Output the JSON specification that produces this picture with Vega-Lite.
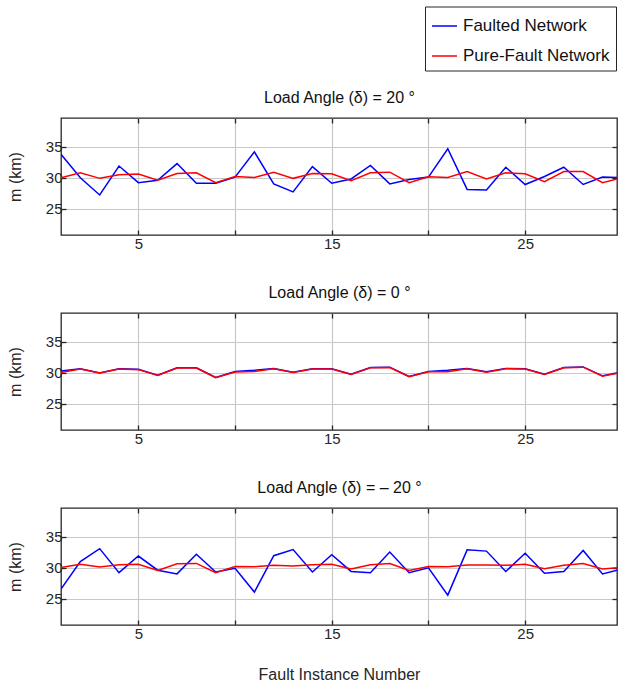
{
  "$schema": "https://vega.github.io/schema/vega-lite/v6.json",
  "padding": {"left": 6, "top": 5, "right": 0, "bottom": 2},
  "background": "white",
  "config": {
    "font": "Liberation Sans",
    "view": {"stroke": "#262626", "strokeWidth": 1.3},
    "axis": {"labelFont": "Liberation Sans", "titleFont": "Liberation Sans", "labelColor": "#262626", "titleColor": "#262626", "labelFontSize": 15, "titleFontSize": 16, "titleFontWeight": "normal", "gridColor": "#c8c8c8", "gridWidth": 1.2, "domain": false, "tickColor": "#262626", "tickWidth": 1.3},
    "axisTop": {"titleColor": "#111111", "titlePadding": 12},
    "legend": {"labelFont": "Liberation Sans"}
  },
  "datasets": {
    "p20": [
      {"n": 1, "faulted": 33.8, "pure": 30.0}, {"n": 2, "faulted": 30.0, "pure": 30.8}, {"n": 3, "faulted": 27.2, "pure": 29.9},
      {"n": 4, "faulted": 31.9, "pure": 30.5}, {"n": 5, "faulted": 29.2, "pure": 30.6}, {"n": 6, "faulted": 29.6, "pure": 29.6},
      {"n": 7, "faulted": 32.3, "pure": 30.7}, {"n": 8, "faulted": 29.1, "pure": 30.8}, {"n": 9, "faulted": 29.1, "pure": 29.2},
      {"n": 10, "faulted": 30.1, "pure": 30.2}, {"n": 11, "faulted": 34.2, "pure": 30.05}, {"n": 12, "faulted": 29.0, "pure": 30.9},
      {"n": 13, "faulted": 27.7, "pure": 29.9}, {"n": 14, "faulted": 31.8, "pure": 30.7}, {"n": 15, "faulted": 29.1, "pure": 30.65},
      {"n": 16, "faulted": 29.8, "pure": 29.5}, {"n": 17, "faulted": 32.0, "pure": 30.8}, {"n": 18, "faulted": 29.0, "pure": 30.9},
      {"n": 19, "faulted": 29.7, "pure": 29.2}, {"n": 20, "faulted": 30.1, "pure": 30.15}, {"n": 21, "faulted": 34.7, "pure": 30.05},
      {"n": 22, "faulted": 28.1, "pure": 31.0}, {"n": 23, "faulted": 28.0, "pure": 29.8}, {"n": 24, "faulted": 31.7, "pure": 30.8},
      {"n": 25, "faulted": 28.9, "pure": 30.65}, {"n": 26, "faulted": 30.2, "pure": 29.35}, {"n": 27, "faulted": 31.7, "pure": 31.0},
      {"n": 28, "faulted": 28.9, "pure": 31.0}, {"n": 29, "faulted": 30.1, "pure": 29.2}, {"n": 30, "faulted": 30.0, "pure": 30.0}
    ],
    "p0": [
      {"n": 1, "faulted": 30.3, "pure": 30.05}, {"n": 2, "faulted": 30.65, "pure": 30.6}, {"n": 3, "faulted": 29.95, "pure": 29.95},
      {"n": 4, "faulted": 30.65, "pure": 30.6}, {"n": 5, "faulted": 30.55, "pure": 30.5}, {"n": 6, "faulted": 29.6, "pure": 29.55},
      {"n": 7, "faulted": 30.8, "pure": 30.75}, {"n": 8, "faulted": 30.8, "pure": 30.75}, {"n": 9, "faulted": 29.25, "pure": 29.2},
      {"n": 10, "faulted": 30.2, "pure": 30.1}, {"n": 11, "faulted": 30.4, "pure": 30.2}, {"n": 12, "faulted": 30.7, "pure": 30.65},
      {"n": 13, "faulted": 30.1, "pure": 30.05}, {"n": 14, "faulted": 30.65, "pure": 30.6}, {"n": 15, "faulted": 30.65, "pure": 30.6},
      {"n": 16, "faulted": 29.75, "pure": 29.7}, {"n": 17, "faulted": 30.85, "pure": 30.8}, {"n": 18, "faulted": 30.9, "pure": 30.85},
      {"n": 19, "faulted": 29.4, "pure": 29.35}, {"n": 20, "faulted": 30.2, "pure": 30.15}, {"n": 21, "faulted": 30.4, "pure": 30.15},
      {"n": 22, "faulted": 30.7, "pure": 30.65}, {"n": 23, "faulted": 30.15, "pure": 30.1}, {"n": 24, "faulted": 30.7, "pure": 30.65},
      {"n": 25, "faulted": 30.65, "pure": 30.6}, {"n": 26, "faulted": 29.75, "pure": 29.7}, {"n": 27, "faulted": 30.85, "pure": 30.8},
      {"n": 28, "faulted": 30.95, "pure": 30.9}, {"n": 29, "faulted": 29.5, "pure": 29.45}, {"n": 30, "faulted": 30.1, "pure": 30.05}
    ],
    "pm20": [
      {"n": 1, "faulted": 26.55, "pure": 30.05}, {"n": 2, "faulted": 31.0, "pure": 30.55}, {"n": 3, "faulted": 33.1, "pure": 30.1},
      {"n": 4, "faulted": 29.2, "pure": 30.5}, {"n": 5, "faulted": 31.9, "pure": 30.55}, {"n": 6, "faulted": 29.6, "pure": 29.55},
      {"n": 7, "faulted": 29.0, "pure": 30.65}, {"n": 8, "faulted": 32.2, "pure": 30.7}, {"n": 9, "faulted": 29.3, "pure": 29.2},
      {"n": 10, "faulted": 29.9, "pure": 30.2}, {"n": 11, "faulted": 26.05, "pure": 30.15}, {"n": 12, "faulted": 31.95, "pure": 30.4},
      {"n": 13, "faulted": 32.95, "pure": 30.3}, {"n": 14, "faulted": 29.3, "pure": 30.5}, {"n": 15, "faulted": 32.1, "pure": 30.55},
      {"n": 16, "faulted": 29.4, "pure": 29.8}, {"n": 17, "faulted": 29.2, "pure": 30.5}, {"n": 18, "faulted": 32.55, "pure": 30.7},
      {"n": 19, "faulted": 29.2, "pure": 29.55}, {"n": 20, "faulted": 30.0, "pure": 30.2}, {"n": 21, "faulted": 25.55, "pure": 30.15},
      {"n": 22, "faulted": 32.9, "pure": 30.45}, {"n": 23, "faulted": 32.7, "pure": 30.45}, {"n": 24, "faulted": 29.4, "pure": 30.4},
      {"n": 25, "faulted": 32.35, "pure": 30.55}, {"n": 26, "faulted": 29.1, "pure": 29.85}, {"n": 27, "faulted": 29.4, "pure": 30.4},
      {"n": 28, "faulted": 32.8, "pure": 30.7}, {"n": 29, "faulted": 29.0, "pure": 29.8}, {"n": 30, "faulted": 29.8, "pure": 30.05}
    ]
  },
  "spacing": 31,
  "resolve": {"scale": {"color": "independent"}, "legend": {"color": "independent"}},
  "vconcat": [
    {
      "width": 556, "height": 117,
      "data": {"name": "p20"},
      "transform": [{"fold": ["faulted", "pure"], "as": ["series", "m"]}],
      "layer": [
        {
          "mark": {"type": "line", "clip": true, "strokeWidth": 1.5},
          "encoding": {
            "x": {"field": "n", "type": "quantitative", "scale": {"domain": [1, 29.75], "nice": false, "zero": false}, "axis": {"orient": "bottom", "values": [5, 10, 15, 20, 25], "labelExpr": "datum.value % 10 == 5 ? datum.label : ''", "tickSize": -5, "labelPadding": 6, "title": null}},
            "y": {"field": "m", "type": "quantitative", "scale": {"domain": [20.7, 39.7], "nice": false, "zero": false}, "axis": {"orient": "left", "values": [25, 30, 35], "tickSize": -5, "labelPadding": 4, "title": "m (km)", "titlePadding": 22}},
            "color": {"field": "series", "type": "nominal", "scale": {"domain": ["faulted", "pure"], "range": ["#0000ff", "#ff0000"]},
              "legend": {"orient": "none", "legendX": 364, "legendY": -111.5, "title": null, "symbolType": "stroke", "symbolSize": 625, "symbolStrokeWidth": 1.5, "labelFontSize": 17, "labelColor": "#111111", "labelOffset": 5, "strokeColor": "#262626", "fillColor": "white", "padding": 6, "rowPadding": 8, "cornerRadius": 0,
                "labelExpr": "datum.label == 'faulted' ? 'Faulted Network' : 'Pure-Fault Network'"}}
          }
        },
        {
          "mark": {"type": "line", "opacity": 0},
          "encoding": {
            "x": {"field": "n", "type": "quantitative", "axis": {"orient": "top", "values": [5, 10, 15, 20, 25], "labels": false, "grid": false, "tickSize": -5, "title": "Load Angle (δ) = 20 °"}},
            "y": {"field": "m", "type": "quantitative", "axis": {"orient": "right", "values": [25, 30, 35], "labels": false, "grid": false, "tickSize": -5, "title": null}}
          }
        }
      ]
    },
    {
      "width": 556, "height": 117,
      "data": {"name": "p0"},
      "transform": [{"fold": ["faulted", "pure"], "as": ["series", "m"]}],
      "layer": [
        {
          "mark": {"type": "line", "clip": true, "strokeWidth": 1.5},
          "encoding": {
            "x": {"field": "n", "type": "quantitative", "scale": {"domain": [1, 29.75], "nice": false, "zero": false}, "axis": {"orient": "bottom", "values": [5, 10, 15, 20, 25], "labelExpr": "datum.value % 10 == 5 ? datum.label : ''", "tickSize": -5, "labelPadding": 6, "title": null}},
            "y": {"field": "m", "type": "quantitative", "scale": {"domain": [20.7, 39.7], "nice": false, "zero": false}, "axis": {"orient": "left", "values": [25, 30, 35], "tickSize": -5, "labelPadding": 4, "title": "m (km)", "titlePadding": 22}},
            "color": {"field": "series", "type": "nominal", "scale": {"domain": ["faulted", "pure"], "range": ["#0000ff", "#ff0000"]}, "legend": null}
          }
        },
        {
          "mark": {"type": "line", "opacity": 0},
          "encoding": {
            "x": {"field": "n", "type": "quantitative", "axis": {"orient": "top", "values": [5, 10, 15, 20, 25], "labels": false, "grid": false, "tickSize": -5, "title": "Load Angle (δ) = 0 °"}},
            "y": {"field": "m", "type": "quantitative", "axis": {"orient": "right", "values": [25, 30, 35], "labels": false, "grid": false, "tickSize": -5, "title": null}}
          }
        }
      ]
    },
    {
      "width": 556, "height": 117,
      "data": {"name": "pm20"},
      "transform": [{"fold": ["faulted", "pure"], "as": ["series", "m"]}],
      "layer": [
        {
          "mark": {"type": "line", "clip": true, "strokeWidth": 1.5},
          "encoding": {
            "x": {"field": "n", "type": "quantitative", "scale": {"domain": [1, 29.75], "nice": false, "zero": false}, "axis": {"orient": "bottom", "values": [5, 10, 15, 20, 25], "labelExpr": "datum.value % 10 == 5 ? datum.label : ''", "tickSize": -5, "labelPadding": 6, "title": "Fault Instance Number", "titlePadding": 25}},
            "y": {"field": "m", "type": "quantitative", "scale": {"domain": [20.7, 39.7], "nice": false, "zero": false}, "axis": {"orient": "left", "values": [25, 30, 35], "tickSize": -5, "labelPadding": 4, "title": "m (km)", "titlePadding": 22}},
            "color": {"field": "series", "type": "nominal", "scale": {"domain": ["faulted", "pure"], "range": ["#0000ff", "#ff0000"]}, "legend": null}
          }
        },
        {
          "mark": {"type": "line", "opacity": 0},
          "encoding": {
            "x": {"field": "n", "type": "quantitative", "axis": {"orient": "top", "values": [5, 10, 15, 20, 25], "labels": false, "grid": false, "tickSize": -5, "title": "Load Angle (δ) = – 20 °"}},
            "y": {"field": "m", "type": "quantitative", "axis": {"orient": "right", "values": [25, 30, 35], "labels": false, "grid": false, "tickSize": -5, "title": null}}
          }
        }
      ]
    }
  ]
}
